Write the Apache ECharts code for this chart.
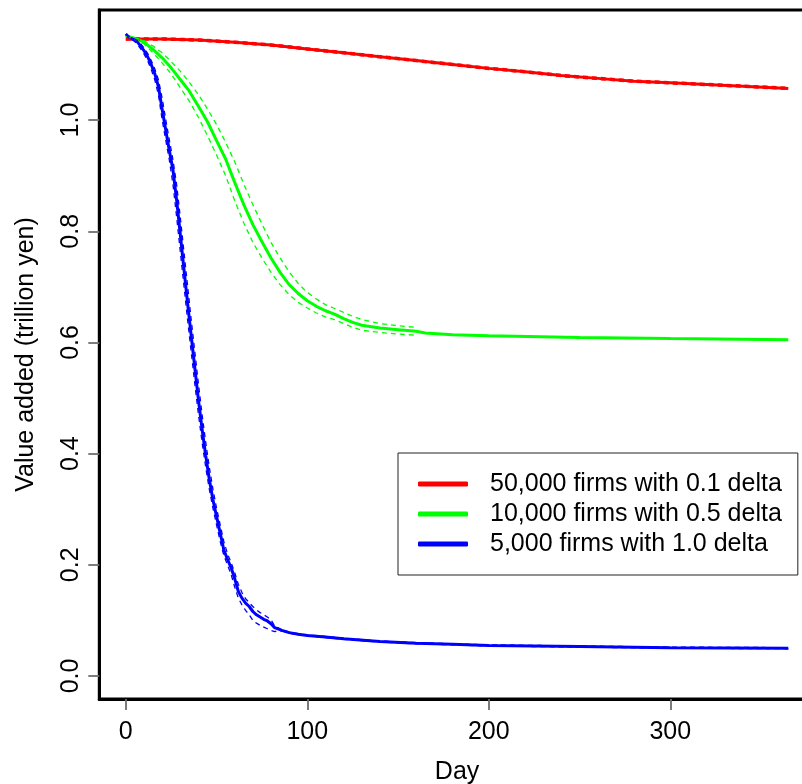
<!DOCTYPE html>
<html><head><meta charset="utf-8">
<script src="https://cdn.jsdelivr.net/npm/echarts@6/dist/echarts.min.js"></script>
<style>html,body{margin:0;padding:0;background:#fff;overflow:hidden}#c{width:816px;height:784px}</style>
</head><body><div id="c"></div>
<script>
const xTicks = [0, 100, 200, 300];
const yTicks = [0, 0.2, 0.4, 0.6, 0.8, 1.0];
const legendNames = ['50,000 firms with 0.1 delta', '10,000 firms with 0.5 delta', '5,000 firms with 1.0 delta'];

const redDays  = [0, 20, 40, 60, 80, 100, 120, 140, 160, 180, 200, 220, 240, 260, 280, 300, 320, 340, 365];
const redMean  = [1.146, 1.146, 1.144, 1.140, 1.135, 1.128, 1.121, 1.114, 1.107, 1.100, 1.093, 1.087, 1.080, 1.075, 1.070, 1.067, 1.064, 1.061, 1.057];
const redUpper = [1.148, 1.148, 1.146, 1.142, 1.137, 1.130, 1.123, 1.116, 1.109, 1.102, 1.095, 1.089, 1.082, 1.077, 1.072, 1.069, 1.066, 1.063, 1.059];
const redLower = [1.144, 1.144, 1.142, 1.138, 1.133, 1.126, 1.119, 1.112, 1.105, 1.098, 1.091, 1.085, 1.078, 1.073, 1.068, 1.065, 1.062, 1.059, 1.055];

const greenDays = [0, 5, 10, 15, 20, 25, 30, 35, 40, 45, 50, 55, 60, 65, 70, 75, 80, 85, 90, 95, 100, 105, 110, 115, 120, 125, 130, 140, 150, 160, 165, 180, 200, 250, 300, 365];
const greenMean = [1.152, 1.147, 1.140, 1.127, 1.112, 1.094, 1.073, 1.052, 1.025, 0.997, 0.963, 0.930, 0.888, 0.848, 0.812, 0.781, 0.752, 0.726, 0.704, 0.688, 0.675, 0.665, 0.657, 0.651, 0.643, 0.636, 0.631, 0.626, 0.623, 0.620, 0.617, 0.614, 0.612, 0.609, 0.607, 0.605];
const greenBandDays = [0, 5, 10, 15, 20, 25, 30, 35, 40, 45, 50, 55, 60, 65, 70, 75, 80, 85, 90, 95, 100, 105, 110, 115, 120, 125, 130, 140, 150, 160];
const greenUpper = [1.152, 1.148, 1.143, 1.133, 1.121, 1.105, 1.088, 1.068, 1.046, 1.020, 0.992, 0.960, 0.925, 0.885, 0.848, 0.813, 0.780, 0.752, 0.727, 0.706, 0.690, 0.678, 0.668, 0.661, 0.654, 0.647, 0.641, 0.634, 0.630, 0.627];
const greenLower = [1.152, 1.146, 1.137, 1.121, 1.103, 1.083, 1.058, 1.034, 1.005, 0.972, 0.937, 0.900, 0.855, 0.815, 0.780, 0.752, 0.726, 0.704, 0.686, 0.672, 0.662, 0.653, 0.646, 0.641, 0.634, 0.627, 0.622, 0.618, 0.615, 0.613];

const blueDays  = [0, 2, 4, 6, 8, 10, 12, 14, 16, 18, 20, 22, 24, 26, 28, 30, 32, 34, 36, 38, 40, 42, 44, 46, 48, 50, 52, 54, 56, 58, 60, 62, 64, 66, 68, 70, 72, 74, 76, 78, 80, 82, 86, 90, 95, 100, 110, 120, 140, 160, 180, 200, 250, 300, 365];
const blueMean  = [1.155, 1.148, 1.145, 1.142, 1.134, 1.125, 1.114, 1.100, 1.083, 1.060, 1.020, 0.982, 0.945, 0.910, 0.856, 0.795, 0.733, 0.672, 0.613, 0.555, 0.497, 0.445, 0.397, 0.354, 0.317, 0.287, 0.257, 0.227, 0.210, 0.195, 0.175, 0.152, 0.140, 0.131, 0.125, 0.116, 0.110, 0.106, 0.102, 0.099, 0.094, 0.087, 0.082, 0.078, 0.075, 0.073, 0.070, 0.067, 0.062, 0.059, 0.057, 0.055, 0.053, 0.051, 0.050];
const blueUpper = [1.155, 1.150, 1.147, 1.144, 1.138, 1.130, 1.120, 1.107, 1.092, 1.072, 1.040, 1.001, 0.964, 0.928, 0.884, 0.826, 0.764, 0.703, 0.642, 0.584, 0.526, 0.471, 0.421, 0.376, 0.336, 0.302, 0.272, 0.242, 0.220, 0.204, 0.186, 0.165, 0.150, 0.139, 0.132, 0.125, 0.119, 0.114, 0.110, 0.106, 0.101, 0.090, 0.083, 0.079, 0.076, 0.074, 0.071, 0.068, 0.063, 0.060, 0.058, 0.056, 0.054, 0.052, 0.051];
const blueLower = [1.155, 1.146, 1.144, 1.138, 1.129, 1.119, 1.107, 1.091, 1.072, 1.045, 1.001, 0.964, 0.928, 0.884, 0.826, 0.764, 0.703, 0.642, 0.584, 0.526, 0.471, 0.421, 0.376, 0.336, 0.302, 0.272, 0.242, 0.217, 0.200, 0.183, 0.160, 0.140, 0.128, 0.118, 0.110, 0.100, 0.095, 0.091, 0.088, 0.085, 0.082, 0.080, 0.081, 0.077, 0.074, 0.072, 0.069, 0.066, 0.061, 0.058, 0.056, 0.054, 0.052, 0.050, 0.049];

function pairs(d, v) { return d.map((x, i) => [x, v[i]]); }
const FONT = 'Liberation Sans, Arial, Helvetica, sans-serif';

function solid(name, color, d, v) {
  return { name, type: 'line', data: pairs(d, v), symbol: 'none', smooth: false,
    lineStyle: { color, width: 3 }, itemStyle: { color }, z: 3 };
}
function dashed(name, color, d, v) {
  return { name, type: 'line', data: pairs(d, v), symbol: 'none', smooth: false,
    lineStyle: { color, width: 1.3, type: [5, 4] }, itemStyle: { color }, z: 4 };
}

const chart = echarts.init(document.getElementById('c'), null, { renderer: 'canvas' });
chart.setOption({
  animation: false,
  backgroundColor: '#fff',
  grid: { left: 99.3, top: 10, right: 1.2, bottom: 85, outerBoundsMode: 'none', containLabel: false,
    show: true, borderColor: '#000', borderWidth: 3, backgroundColor: 'transparent' },
  xAxis: {
    type: 'value', min: -14.6, max: 379.6,
    name: 'Day', nameLocation: 'middle', nameGap: 61,
    nameTextStyle: { fontFamily: FONT, fontSize: 25, lineHeight: 25, color: '#000' },
    axisLine: { show: true, onZero: false, lineStyle: { color: '#000', width: 3 } },
    splitLine: { show: false },
    axisTick: { show: true, length: 11, lineStyle: { color: '#6e6e6e', width: 1.8 }, customValues: xTicks },
    axisLabel: { show: true, margin: 21, fontFamily: FONT, fontSize: 25, lineHeight: 25, color: '#000', customValues: xTicks, formatter: v => String(v) }
  },
  yAxis: {
    type: 'value', min: -0.0414, max: 1.198,
    name: 'Value added (trillion yen)', nameLocation: 'middle', nameGap: 61,
    nameTextStyle: { fontFamily: FONT, fontSize: 25, lineHeight: 25, color: '#000' },
    axisLine: { show: true, onZero: false, lineStyle: { color: '#000', width: 3 } },
    splitLine: { show: false },
    axisTick: { show: true, length: 11, lineStyle: { color: '#6e6e6e', width: 1.8 }, customValues: yTicks },
    axisLabel: { show: true, rotate: 90, margin: 16, fontFamily: FONT, fontSize: 25, lineHeight: 25, color: '#000', customValues: yTicks, formatter: v => v.toFixed(1) }
  },
  legend: {
    data: legendNames.map(n => ({ name: n, icon: 'roundRect' })),
    orient: 'vertical', left: 398, top: 453,
    itemWidth: 50, itemHeight: 5, itemGap: 5,
    padding: [18.5, 16, 18.5, 20],
    borderColor: '#222', borderWidth: 1, backgroundColor: '#fff',
    selectedMode: false,
    textStyle: { fontFamily: FONT, fontSize: 25, lineHeight: 25, color: '#000', padding: [0, 0, 0, 17] }
  },
  series: [
    solid(legendNames[0], '#ff0000', redDays, redMean),
    dashed('red upper', '#ff0000', redDays, redUpper),
    dashed('red lower', '#ff0000', redDays, redLower),
    solid(legendNames[1], '#00ff00', greenDays, greenMean),
    dashed('green upper', '#00ff00', greenBandDays, greenUpper),
    dashed('green lower', '#00ff00', greenBandDays, greenLower),
    solid(legendNames[2], '#0000ff', blueDays, blueMean),
    dashed('blue upper', '#0000ff', blueDays, blueUpper),
    dashed('blue lower', '#0000ff', blueDays, blueLower)
  ]
});
</script>
</body></html>
